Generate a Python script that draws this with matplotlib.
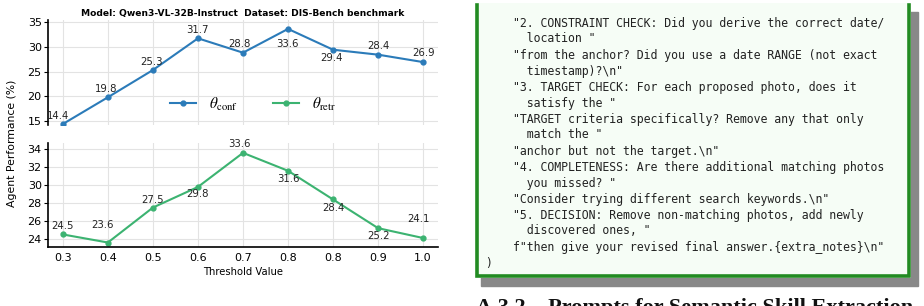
import matplotlib.pyplot as plt
import matplotlib.patches as patches

# data
thresholds = ['0.3', '0.4', '0.5', '0.6', '0.7', '0.8', '0.8', '0.9', '1.0']
theta_conf = [14.4, 19.8, 25.3, 31.7, 28.8, 33.6, 29.4, 28.4, 26.9]
theta_retr = [24.5, 23.6, 27.5, 29.8, 33.6, 31.6, 28.4, 25.2, 24.1]
title = 'Model: Qwen3-VL-32B-Instruct  Dataset: DIS-Bench benchmark'

code_lines = [
    '"2. CONSTRAINT CHECK: Did you derive the correct date/',
    '  location "',
    '"from the anchor? Did you use a date RANGE (not exact',
    '  timestamp)?\\n"',
    '"3. TARGET CHECK: For each proposed photo, does it',
    '  satisfy the "',
    '"TARGET criteria specifically? Remove any that only',
    '  match the "',
    '"anchor but not the target.\\n"',
    '"4. COMPLETENESS: Are there additional matching photos',
    '  you missed? "',
    '"Consider trying different search keywords.\\n"',
    '"5. DECISION: Remove non-matching photos, add newly',
    '  discovered ones, "',
    'f"then give your revised final answer.{extra_notes}\\n"',
    ')',
]
heading = 'A.3.2    Prompts for Semantic Skill Extraction'

# label offsets in pixels (dx, dy up)
conf_off = [(-5, 8), (-2, 8), (-1, 8), (-1, 8), (-4, 9), (-1, -15), (-2, -8), (0, 9), (0, 9)]
retr_off = [(0, 8), (-5, 18), (0, 8), (0, -7), (-4, 9), (0, -8), (0, -9), (0, -8), (-5, 19)]

blue = '#2b7bb9'
green = '#3cb371'

W, H = 924, 306
fig = plt.figure(figsize=(W / 100, H / 100), dpi=100)
plt.rcParams['mathtext.fontset'] = 'stix'


def px_axes(x0, y0, x1, y1):
    return fig.add_axes([x0 / W, 1 - y1 / H, (x1 - x0) / W, (y1 - y0) / H])


ax1 = px_axes(48, 20, 438, 125)
ax2 = px_axes(48, 143, 438, 247)
x = list(range(len(thresholds)))

for ax, vals, col, offs, lab in [(ax1, theta_conf, blue, conf_off, r'$\theta_{\mathrm{conf}}$'),
                                  (ax2, theta_retr, green, retr_off, r'$\theta_{\mathrm{retr}}$')]:
    ax.plot(x, vals, '-o', color=col, lw=1.5, ms=3.5, label=lab)
    for xi, v, (dx, dy) in zip(x, vals, offs):
        ax.annotate(f'{v:.1f}', (xi, v), xytext=(dx, dy), textcoords='offset pixels',
                    ha='center', va='center', fontsize=7.3, color='#222222')
    ax.set_xlim(-0.33, 8.33)
    ax.grid(True, color='#e3e3e3', lw=0.8)
    ax.set_axisbelow(True)
    for s in ['top', 'right']:
        ax.spines[s].set_visible(False)
    ax.spines['left'].set_linewidth(1.2)
    ax.spines['bottom'].set_linewidth(1.2)
    ax.tick_params(axis='y', labelsize=8, length=3, pad=1.5)
    ax.set_xticks(x)

ax1.set_ylim(14.2, 35.4)
ax1.set_yticks([15, 20, 25, 30, 35])
ax1.spines['bottom'].set_visible(False)
ax1.tick_params(axis='x', length=0, labelbottom=False)
ax1.set_title(title, fontsize=6.6, fontweight='bold', pad=3)

ax2.set_ylim(23.1, 34.7)
ax2.set_yticks([24, 26, 28, 30, 32, 34])
ax2.set_xticklabels(thresholds)
ax2.tick_params(axis='x', labelsize=8, length=0, pad=4)
ax2.set_xlabel('Threshold Value', fontsize=7.2, labelpad=3)

h1, l1 = ax1.get_legend_handles_labels()
h2, l2 = ax2.get_legend_handles_labels()
ax1.legend(h1 + h2, l1 + l2, ncol=2, frameon=False, fontsize=11,
           loc='center', bbox_to_anchor=(0.525, 0.2), columnspacing=2.3,
           handlelength=1.75, handletextpad=0.8)

fig.text(12 / W, 1 - 143 / H, 'Agent Performance (%)', rotation=90,
         ha='center', va='center', fontsize=7.8)

# code box on the right
bx = fig.add_axes([0, 0, 1, 1])
bx.set_xlim(0, W)
bx.set_ylim(H, 0)
bx.axis('off')
bx.add_patch(patches.Rectangle((481, 12), 437, 274, color='#888888', zorder=1))
bx.add_patch(patches.Rectangle((475, 3), 436, 275, facecolor='#f6fdf6', edgecolor='none', zorder=2))
bx.plot([477, 477, 909, 909], [5, 276, 276, 5], color='#228b22', lw=2.6, zorder=3,
        solid_joinstyle='miter')
for i, line in enumerate(code_lines):
    xt = 485 if line == ')' else 513
    bx.text(xt, 23 + 16 * i, line, family='DejaVu Sans Mono', fontsize=8.3,
            color='#222222', va='center', ha='left', zorder=4)
bx.text(476, 298, heading, family='Liberation Serif', fontweight='bold',
        fontsize=16, va='top', ha='left', color='#111111')

fig.savefig('out.png', dpi=100)
